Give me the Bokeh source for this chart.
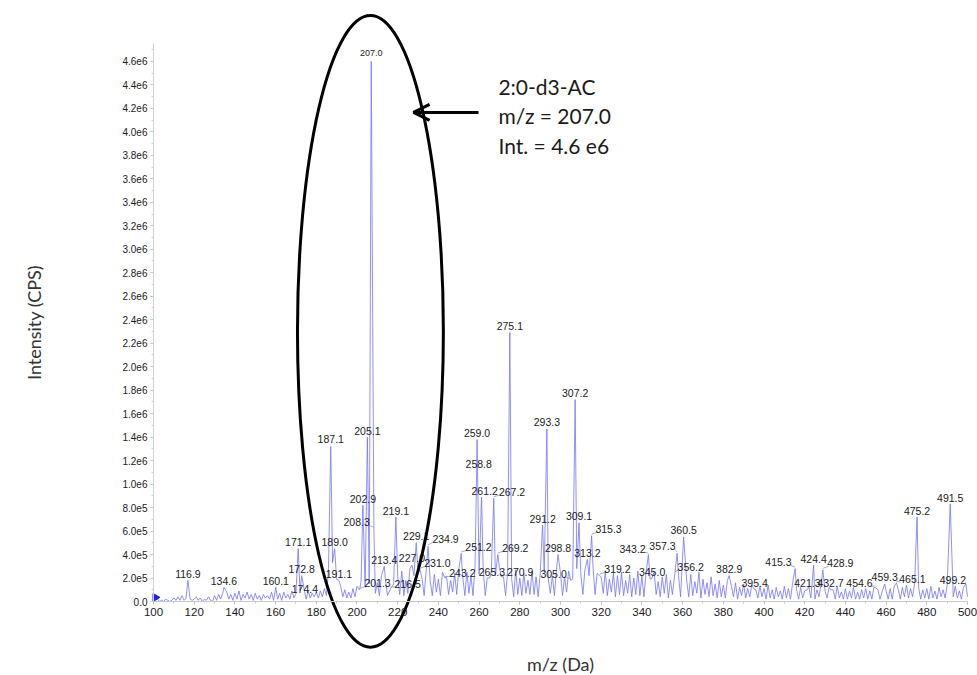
import numpy as np
import pandas as pd
from bokeh.plotting import figure
from bokeh.models import Range1d, FixedTicker, Arrow, OpenHead, ColumnDataSource
from bokeh.core.properties import value
from bokeh.embed import file_html
from bokeh.resources import INLINE

# ---------------- data ----------------
# labelled peaks (m/z, intensity in CPS)
peak_mz = [116.9, 134.6, 160.1, 171.1, 172.8, 174.4, 187.1, 189.0, 191.1, 201.3,
           202.9, 205.1, 207.0, 208.3, 213.4, 216.5, 219.1, 227.0, 229.1, 231.0,
           234.9, 243.2, 251.2, 258.8, 259.0, 261.2, 265.3, 267.2, 269.2, 270.9,
           275.1, 291.2, 293.3, 298.8, 305.0, 307.2, 309.1, 313.2, 315.3, 319.2,
           343.2, 345.0, 356.2, 357.3, 360.5, 382.9, 395.4, 415.3, 421.3, 424.4,
           428.9, 432.7, 454.6, 459.3, 465.1, 475.2, 491.5, 499.2]
peak_int = [0.18e6, 0.12e6, 0.12e6, 0.45e6, 0.22e6, 0.07e6, 1.32e6, 0.45e6, 0.18e6, 0.10e6,
            0.82e6, 1.40e6, 4.60e6, 0.62e6, 0.30e6, 0.11e6, 0.72e6, 0.31e6, 0.50e6, 0.27e6,
            0.47e6, 0.20e6, 0.41e6, 1.12e6, 1.38e6, 0.89e6, 0.20e6, 0.88e6, 0.40e6, 0.21e6,
            2.29e6, 0.65e6, 1.47e6, 0.40e6, 0.18e6, 1.72e6, 0.67e6, 0.36e6, 0.56e6, 0.22e6,
            0.40e6, 0.20e6, 0.24e6, 0.41e6, 0.55e6, 0.22e6, 0.10e6, 0.28e6, 0.10e6, 0.31e6,
            0.27e6, 0.10e6, 0.12e6, 0.15e6, 0.16e6, 0.72e6, 0.83e6, 0.15e6]
peak_labels = ["116.9", "134.6", "160.1", "171.1", "172.8", "174.4", "187.1", "189.0", "191.1", "201.3",
               "202.9", "205.1", "207.0", "208.3", "213.4", "216.5", "219.1", "227.0", "229.1", "231.0",
               "234.9", "243.2", "251.2", "258.8", "259.0", "261.2", "265.3", "267.2", "269.2", "270.9",
               "275.1", "291.2", "293.3", "298.8", "305.0", "307.2", "309.1", "313.2", "315.3", "319.2",
               "343.2", "345.0", "356.2", "357.3", "360.5", "382.9", "395.4", "415.3", "421.3", "424.4",
               "428.9", "432.7", "454.6", "459.3", "465.1", "475.2", "491.5", "499.2"]

# background noise profile, one reading per 1 Da from 100 to 500 (units of 1e4 CPS)
noise_start = 100
noise_vals = [
    3, 1, 2, 0, 1, 0, 2, 1, 0, 1, 3, 1, 4, 1, 5, 1, 3, 7, 2, 1,
    2, 4, 1, 3, 0, 2, 1, 4, 1, 0, 5, 1, 6, 2, 7, 1, 8, 2, 6, 1,
    7, 2, 9, 1, 6, 3, 8, 2, 6, 1, 7, 2, 5, 1, 6, 3, 5, 2, 8, 1,
    5, 2, 7, 1, 8, 3, 6, 2, 9, 3, 7, 4, 9, 5, 8, 2, 9, 3, 7, 4,
    8, 3, 9, 4, 11, 5, 28, 8, 33, 10, 19, 6, 13, 4, 10, 3, 8, 3, 11, 4,
    13, 5, 17, 6, 12, 5, 15, 6, 20, 7, 16, 5, 22, 8, 18, 5, 20, 6, 15, 7,
    21, 6, 26, 5, 18, 7, 28, 9, 22, 6, 24, 8, 19, 5, 26, 7, 17, 5, 23, 8,
    19, 5, 25, 7, 21, 6, 18, 8, 24, 6, 27, 8, 20, 5, 25, 7, 22, 5, 29, 8,
    23, 6, 28, 5, 20, 8, 26, 5, 22, 9, 29, 6, 21, 5, 25, 7, 19, 4, 27, 6,
    20, 5, 24, 7, 18, 6, 26, 6, 21, 4, 23, 8, 25, 5, 19, 7, 22, 5, 27, 6,
    24, 5, 21, 8, 26, 4, 19, 7, 28, 9, 23, 6, 27, 5, 22, 9, 29, 6, 24, 4,
    21, 7, 26, 5, 19, 8, 24, 4, 22, 6, 25, 5, 18, 7, 23, 4, 20, 6, 26, 5,
    22, 4, 24, 7, 19, 5, 25, 6, 17, 4, 21, 7, 23, 3, 18, 6, 27, 5, 22, 4,
    20, 6, 18, 4, 23, 5, 17, 7, 25, 3, 19, 6, 16, 4, 21, 5, 15, 3, 18, 4,
    14, 3, 18, 5, 13, 4, 16, 2, 12, 5, 15, 3, 11, 4, 14, 2, 10, 3, 13, 4,
    11, 2, 14, 3, 10, 2, 12, 4, 9, 2, 13, 3, 11, 2, 15, 4, 10, 2, 12, 3,
    9, 2, 13, 3, 11, 2, 10, 4, 14, 2, 9, 3, 12, 2, 10, 2, 13, 3, 8, 2,
    11, 2, 9, 3, 12, 2, 8, 2, 10, 3, 11, 2, 9, 2, 12, 3, 10, 2, 8, 2,
    9, 2, 11, 2, 13, 3, 10, 2, 12, 4, 14, 3, 11, 4, 15, 3, 12, 2, 10, 3,
    11, 2, 13, 3, 9, 2, 12, 4, 10, 3, 14, 2, 11, 4, 13, 3, 9, 2, 12, 2,
    4,
]

# axis ticks
x_ticks = [100, 120, 140, 160, 180, 200, 220, 240, 260, 280, 300,
           320, 340, 360, 380, 400, 420, 440, 460, 480, 500]
y_tick_values = [0, 2e5, 4e5, 6e5, 8e5, 1.0e6, 1.2e6, 1.4e6, 1.6e6, 1.8e6, 2.0e6, 2.2e6,
                 2.4e6, 2.6e6, 2.8e6, 3.0e6, 3.2e6, 3.4e6, 3.6e6, 3.8e6, 4.0e6, 4.2e6, 4.4e6, 4.6e6]
y_tick_labels = ["0.0", "2.0e5", "4.0e5", "6.0e5", "8.0e5", "1.0e6", "1.2e6", "1.4e6", "1.6e6",
                 "1.8e6", "2.0e6", "2.2e6", "2.4e6", "2.6e6", "2.8e6", "3.0e6", "3.2e6", "3.4e6",
                 "3.6e6", "3.8e6", "4.0e6", "4.2e6", "4.4e6", "4.6e6"]

annotation_lines = ["2:0-d3-AC", "m/z = 207.0", "Int. = 4.6 e6"]

# ---------------- layout / styling (positions of labels) ----------------
label_dx = {201.3: 8.8, 208.3: -8.5, 216.5: 8.4, 231.0: 8.5, 234.9: 8.6, 243.2: 8.6,
            251.2: 8.5, 267.2: 9.0, 269.2: 8.6, 270.9: 9.3, 305.0: -8.4, 315.3: 8.3,
            319.2: 8.8, 343.2: -7.8, 356.2: 7.8, 357.3: -7.2, 415.3: -8.2, 428.9: 8.6,
            454.6: -7.7, 465.1: 7.8, 499.2: -6.4, 261.2: 1.5, 258.8: 1.0, 265.3: 1.0}
label_dy_default = 0.055e6
label_dy = {174.4: 0.035e6, 216.5: 0.04e6, 243.2: 0.04e6, 251.2: 0.05e6, 270.9: 0.04e6,
            313.2: 0.05e6, 207.0: 0.07e6, 227.0: 0.06e6, 234.9: 0.065e6, 499.2: 0.03e6,
            465.1: 0.03e6, 454.6: 0.035e6, 343.2: 0.045e6, 357.3: 0.065e6, 187.1: 0.065e6}

SANS = "Liberation Sans"
BLUE = "#7474ff"

# ---------------- build profile ----------------
noise_mz = np.arange(noise_start, noise_start + len(noise_vals), dtype=float)
noise_int = np.array(noise_vals, dtype=float) * 1e4
pk = np.array(peak_mz)
keep = np.array([np.min(np.abs(pk - m)) > 0.55 for m in noise_mz])
prof = pd.DataFrame({"mz": np.concatenate([noise_mz[keep], pk]),
                     "inten": np.concatenate([noise_int[keep], np.array(peak_int)])})
prof = prof.sort_values("mz")

lab_x, lab_y, lead = [], [], []
for m, i in zip(peak_mz, peak_int):
    dx = label_dx.get(m, 0.0)
    dy = label_dy.get(m, label_dy_default)
    lab_x.append(m + dx)
    lab_y.append(i + dy)
    lead.append(abs(dx) > 3)
labels_src = ColumnDataSource(dict(x=lab_x, y=lab_y, text=peak_labels,
                                   size=["9px" if t == "207.0" else "10.5px" for t in peak_labels]))
lx0 = [m for m, l in zip(peak_mz, lead) if l]
ly0 = [i + 0.012e6 for i, l in zip(peak_int, lead) if l]
lx1 = [x - np.sign(x - m) * 5.8 for x, m, l in zip(lab_x, peak_mz, lead) if l]
ly1 = [y - 0.025e6 for y, l in zip(lab_y, lead) if l]

# ---------------- figure ----------------
# the frame spans the whole canvas; both axes are pinned at m/z 100 and intensity 0
p = figure(width=977, height=675, x_range=Range1d(24.82, 504.91),
           y_range=Range1d(-0.6302e6, 5.1184e6),
           output_backend="svg", toolbar_location=None,
           min_border_left=0, min_border_right=0, min_border_top=0, min_border_bottom=0)
p.outline_line_color = None
p.grid.visible = False
p.background_fill_color = "white"

xa = p.xaxis[0]
xa.fixed_location = 0
xa.bounds = (100, 500)
xa.ticker = FixedTicker(ticks=x_ticks, minor_ticks=list(range(100, 501, 10)))
xa.axis_line_color = "#c8c8c8"
xa.major_tick_line_color = "#b0b0b0"
xa.minor_tick_line_color = "#c8c8c8"
xa.major_tick_in = 0
xa.major_tick_out = 3
xa.minor_tick_in = 0
xa.minor_tick_out = 2
xa.major_label_text_font = SANS
xa.major_label_text_font_size = "11.5px"
xa.major_label_text_color = "#1a1a1a"
xa.major_label_standoff = 3
xa.axis_label = "m/z (Da)"
xa.axis_label_text_font = "Lato"
xa.axis_label_text_font_style = "normal"
xa.axis_label_text_font_size = "18px"
xa.axis_label_text_color = "#333333"
xa.axis_label_standoff = 34

ya = p.yaxis[0]
ya.fixed_location = 100
ya.bounds = (0, 4.75e6)
ya.ticker = FixedTicker(ticks=y_tick_values, minor_ticks=[k * 1e5 for k in range(48)])
ya.major_label_overrides = {v: s for v, s in zip(y_tick_values, y_tick_labels)}
ya.axis_line_color = "#d0d0d0"
ya.major_tick_line_color = "#b8b8b8"
ya.minor_tick_line_color = "#d0d0d0"
ya.major_tick_in = 0
ya.major_tick_out = 3
ya.minor_tick_in = 0
ya.minor_tick_out = 2
ya.major_label_text_font = SANS
ya.major_label_text_font_size = "10px"
ya.major_label_text_color = "#1a1a1a"
ya.major_label_standoff = 3
ya.axis_label = "Intensity (CPS)"
ya.axis_label_text_font = "Lato"
ya.axis_label_text_font_style = "normal"
ya.axis_label_text_font_size = "18px"
ya.axis_label_text_color = "#333333"
ya.axis_label_standoff = 74

# spectrum
p.line(prof["mz"], prof["inten"], line_color=BLUE, line_width=0.8)
p.scatter(x=[100.9], y=[0.035e6], marker="triangle", angle=-np.pi / 2, size=8,
          fill_color="#2020e0", line_color="#2020e0")

# leader lines and peak labels
p.segment(x0=lx0, y0=ly0, x1=lx1, y1=ly1, line_color="#9a9a9a", line_width=0.8)
p.text(x="x", y="y", text="text", source=labels_src, text_align="center",
       text_baseline="middle", text_font=value(SANS), text_font_size="size",
       text_color="#1a1a1a")

# highlight ellipse around the 207.0 peak
p.ellipse(x=[206.6], y=[2.30e6], width=71.7, height=5.38e6, fill_color=None,
          line_color="black", line_width=3)

# arrow and annotation
p.add_layout(Arrow(end=OpenHead(size=16, line_width=3, line_color="black"),
                   x_start=259.7, y_start=4.165e6, x_end=227.8, y_end=4.165e6,
                   line_width=3, line_color="black"))
p.text(x=[269.5, 269.5, 269.5], y=[4.39e6, 4.14e6, 3.885e6], text=annotation_lines,
       text_align="left", text_baseline="middle", text_font=value("Lato"),
       text_font_size=value("21px"), text_color="#1a1a1a")

open("out.html", "w").write(file_html(p, INLINE))
